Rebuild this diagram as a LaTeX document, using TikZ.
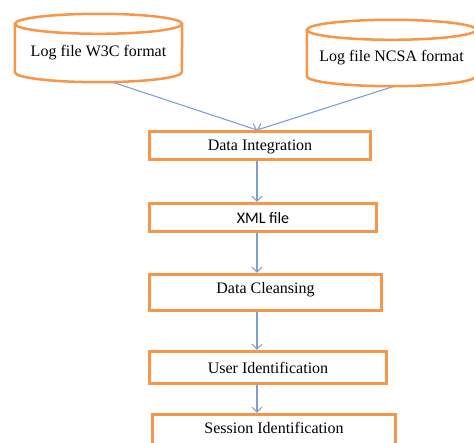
\documentclass[tikz,border=0pt]{standalone}
\usepackage{fontspec}
\setmainfont{Liberation Serif}
\newfontfamily\calibrifont{Carlito}
\usepackage{tikz}
\usetikzlibrary{arrows.meta}
\pgfdeclarelayer{edgelayer}
\pgfdeclarelayer{nodelayer}
\pgfsetlayers{edgelayer,main,nodelayer}
\definecolor{boxorange}{RGB}{247,150,70}
\definecolor{flowblue}{RGB}{125,160,210}
\tikzstyle{stagebox}=[rectangle, draw=boxorange, line width=3pt, fill=white, font=\fontsize{16}{19}\selectfont, text depth=0pt, inner sep=0pt]
\tikzstyle{logbody}=[rectangle, inner sep=0pt, font=\fontsize{16}{19}\selectfont, text depth=0pt]
\tikzstyle{cylline}=[draw=boxorange, line width=2.5pt]
\tikzstyle{flow}=[draw=flowblue, line width=1.1pt, -{Straight Barb[length=5pt,width=10pt]}]

\begin{document}
\begin{tikzpicture}[x=1pt, y=1pt]
	\path[use as bounding box, clip] (0,0) rectangle (474,443);
	\begin{pgfonlayer}{nodelayer}

	%log files
		\node [style=logbody, text height=17pt, minimum width=167, minimum height=48] (w3c) at (98.5,395) {Log file W3C format};
		\node [style=logbody, text height=18pt, minimum width=169, minimum height=46] (ncsa) at (391.5,390) {Log file NCSA format};

	%stages
		\node [style=stagebox, minimum width=221, minimum height=28] (integ) at (260,297.5) {Data Integration};
		\node [style=stagebox, minimum width=227, minimum height=28, font=\fontsize{16}{19}\calibrifont] (xml) at (263,225.5) {XML file};
		\node [style=stagebox, text depth=10pt, minimum width=232, minimum height=36] (cleans) at (265.5,150.5) {Data Cleansing};
		\node [style=stagebox, minimum width=237, minimum height=32] (userid) at (268,75.5) {User Identification};
		\node [style=stagebox, text depth=10pt, minimum width=243, minimum height=36] (sessid) at (274,10.5) {Session Identification};

	\end{pgfonlayer}

	%cylinders
	\draw [style=cylline] (w3c.north west) -- (w3c.south west) arc[start angle=180, end angle=360, x radius=83.5, y radius=10] -- (w3c.north east);
	\draw [style=cylline] (w3c.north) ellipse [x radius=83.5, y radius=10];
	\draw [style=cylline] (ncsa.north west) -- (ncsa.south west) arc[start angle=180, end angle=360, x radius=84.5, y radius=10] -- (ncsa.north east);
	\draw [style=cylline] (ncsa.north) ellipse [x radius=84.5, y radius=10];

	\begin{pgfonlayer}{edgelayer}
		\coordinate (spine) at (257,0);
		\coordinate (w3cout) at (112,361);
		\coordinate (ncsaout) at (395,357);

		\draw [style=flow] (w3cout) to (integ.north -| spine);
		\draw [style=flow] (ncsaout) to (integ.north -| spine);
		\draw [style=flow] (integ.south -| spine) to (xml.north -| spine);
		\draw [style=flow] (xml.south -| spine) to (cleans.north -| spine);
		\draw [style=flow] (cleans.south -| spine) to (userid.north -| spine);
		\draw [style=flow] (userid.south -| spine) to (sessid.north -| spine);

	\end{pgfonlayer}
\end{tikzpicture}
\end{document}
